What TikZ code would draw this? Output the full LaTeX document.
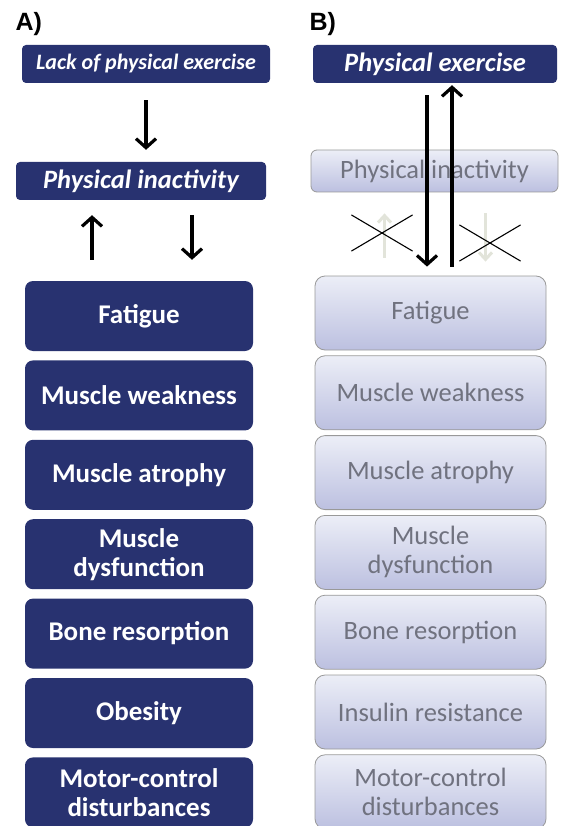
\documentclass[tikz,border=0pt]{standalone}
\usepackage{fontspec}
\setmainfont{Carlito}
\newfontfamily\labelfont{Liberation Sans}
\usepackage{tikz}
\usetikzlibrary{positioning, arrows.meta, shapes.misc}
\definecolor{navy}{HTML}{283270}
\definecolor{lavtop}{HTML}{ECEEF7}
\definecolor{lavbot}{HTML}{BCC0E0}
\definecolor{lavtext}{HTML}{70727F}
\definecolor{fadearrow}{HTML}{E2E4DA}

\begin{document}
\begin{tikzpicture}[x=1pt, y=-1pt,
    darkbox/.style={fill=navy, rounded corners=8pt, align=center, text=white, font=\bfseries\fontsize{27}{29}\selectfont, minimum width=228pt, minimum height=70pt, inner sep=0pt},
    lightbox/.style={draw=gray!80, line width=0.8pt, top color=lavtop, bottom color=lavbot, rounded corners=10pt, align=center, text=lavtext, font=\fontsize{26.5}{29}\selectfont, minimum width=231pt, minimum height=74pt, inner sep=0pt},
    headbox/.style={fill=navy, rounded corners=4pt, text=white, font=\bfseries\itshape\fontsize{26.5}{28}\selectfont, minimum height=38pt, inner sep=0pt},
    arrow/.style={-{Straight Barb[length=9pt, width=20pt]}, line width=3.2pt},
    fadedarrow/.style={-{Straight Barb[length=7pt, width=13pt]}, line width=3pt, color=fadearrow},
    crossmark/.style={draw, cross out, line width=1.1pt, minimum width=60pt, minimum height=35pt}
]
    \useasboundingbox (0,0) rectangle (561,826);

    % panel A
    \node (labelA) [font=\labelfont\bfseries\fontsize{25}{28}\selectfont, anchor=west] at (12,24) {A)};
    \node (lackA) [headbox, minimum width=248pt, font=\bfseries\itshape\fontsize{22}{24}\selectfont] at (146,64) {Lack of physical exercise};
    \node (inactA) [headbox, minimum width=250pt] at (141,181) {Physical inactivity};
    \node (fatigueA) [darkbox] at (139,316) {Fatigue};
    \node (weakA) [darkbox, below=9pt of fatigueA] {Muscle weakness};
    \node (atrophyA) [darkbox, below=9pt of weakA] {Muscle atrophy};
    \node (dysfA) [darkbox, below=9pt of atrophyA] {Muscle\\dysfunction};
    \node (boneA) [darkbox, below=9pt of dysfA] {Bone resorption};
    \node (obesA) [darkbox, below=9pt of boneA] {Obesity};
    \node (motorA) [darkbox, below=9pt of obesA] {Motor-control\\disturbances};

    \draw [arrow, shorten <=17pt, shorten >=12pt] (lackA.south) -- (lackA.south |- inactA.north);
    \draw [arrow, shorten <=21pt, shorten >=15pt] ([xshift=-47pt]fatigueA.north) -- ([xshift=-47pt]fatigueA.north |- inactA.south);
    \draw [arrow, shorten <=15pt, shorten >=21pt] ([xshift=53pt]fatigueA.north |- inactA.south) -- ([xshift=53pt]fatigueA.north);

    % panel B
    \node (labelB) [font=\labelfont\bfseries\fontsize{25}{28}\selectfont, anchor=west] at (306,24) {B)};
    \node (exerB) [headbox, minimum width=244pt] at (435,64) {Physical exercise};
    \node (inactB) [lightbox, minimum width=247pt, minimum height=42pt, rounded corners=6pt] at (434.5,171) {Physical inactivity};
    \node (fatigueB) [lightbox] at (430.5,313) {Fatigue};
    \node (weakB) [lightbox, below=5pt of fatigueB] {Muscle weakness};
    \node (atrophyB) [lightbox, below=5pt of weakB] {Muscle atrophy};
    \node (dysfB) [lightbox, below=5pt of atrophyB] {Muscle\\dysfunction};
    \node (boneB) [lightbox, below=5pt of dysfB] {Bone resorption};
    \node (insulinB) [lightbox, below=5pt of boneB] {Insulin resistance};
    \node (motorB) [lightbox, below=5pt of insulinB] {Motor-control\\disturbances};

    \draw [fadedarrow, shorten <=18pt, shorten >=21pt] ([xshift=-46pt]fatigueB.north) -- ([xshift=-46pt]fatigueB.north |- inactB.south);
    \draw [fadedarrow, shorten <=21pt, shorten >=14pt] ([xshift=55pt]fatigueB.north |- inactB.south) -- ([xshift=55pt]fatigueB.north);
    \node (crossup) [crossmark] at (382,233) {};
    \node (crossdown) [crossmark] at (490,243) {};

    \draw [arrow, shorten <=12pt, shorten >=9pt] ([xshift=-8pt]exerB.south) -- ([xshift=-8pt]exerB.south |- fatigueB.north);
    \draw [arrow, shorten <=9pt, shorten >=2pt] ([xshift=17pt]exerB.south |- fatigueB.north) -- ([xshift=17pt]exerB.south);
\end{tikzpicture}
\end{document}
